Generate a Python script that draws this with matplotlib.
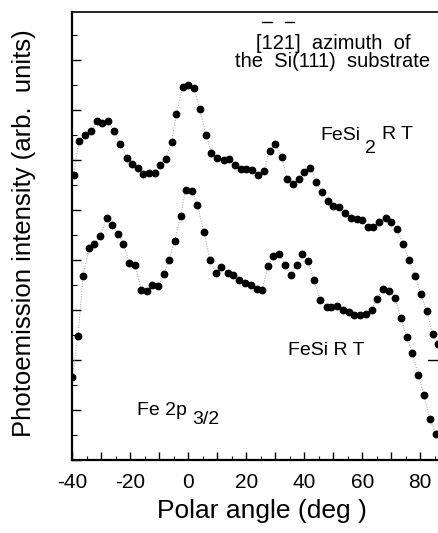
import numpy as np
import matplotlib.pyplot as plt
from matplotlib.ticker import MultipleLocator, FuncFormatter
from matplotlib.font_manager import FontProperties
from matplotlib.lines import Line2D

plt.rcParams['font.family'] = ['Liberation Sans', 'DejaVu Sans']

# polar angle (deg) and intensity (arb. units)
fesi2_angle = [-39.4, -37.6, -35.4, -33.3, -31.4, -29.5, -27.6, -25.5, -23.3, -21.2,
               -19.4, -17.4, -15.5, -13.6, -11.5, -9.8, -7.7, -5.7, -4.0, -1.9,
               0.0, 2.0, 4.0, 6.1, 8.0, 10.1, 12.3, 14.1, 16.1, 18.2,
               20.1, 22.1, 24.1, 26.1, 28.1, 30.1, 32.2, 34.1, 36.2, 38.2,
               40.0, 42.1, 44.0, 46.0, 48.1, 50.0, 52.1, 54.0, 56.0, 58.1,
               60.0, 61.9, 63.8, 65.9, 68.1, 69.9, 71.9, 74.1, 76.2, 78.2,
               80.1, 82.2, 84.3, 86.0]
fesi2_int = [5.71, 6.39, 6.50, 6.59, 6.79, 6.75, 6.78, 6.58, 6.33, 6.05,
             5.93, 5.85, 5.73, 5.75, 5.75, 5.90, 6.03, 6.37, 6.93, 7.47,
             7.51, 7.45, 7.02, 6.51, 6.15, 6.05, 6.00, 6.03, 5.90, 5.83,
             5.82, 5.80, 5.71, 5.79, 6.19, 6.33, 6.07, 5.62, 5.52, 5.62,
             5.77, 5.85, 5.57, 5.37, 5.19, 5.08, 5.07, 4.95, 4.85, 4.82,
             4.80, 4.65, 4.65, 4.77, 4.85, 4.77, 4.63, 4.32, 4.00, 3.69,
             3.33, 2.98, 2.53, 2.32]

fesi_angle = [-39.9, -37.9, -36.2, -34.1, -32.4, -30.2, -28.1, -26.3, -24.3, -22.3,
              -20.3, -18.3, -16.1, -14.1, -12.3, -10.3, -8.3, -6.6, -4.6, -2.6,
              -0.8, 1.3, 3.2, 5.4, 7.5, 9.6, 11.5, 13.6, 15.5, 17.6,
              19.6, 21.6, 23.6, 25.5, 27.6, 29.3, 31.4, 33.4, 35.4, 37.4,
              39.3, 41.4, 43.3, 45.5, 47.7, 49.4, 51.4, 53.4, 55.4, 57.1,
              59.2, 61.3, 63.2, 65.2, 67.1, 69.3, 71.3, 73.2, 75.3, 77.2,
              79.3, 81.3, 83.3, 85.4]
fesi_int = [1.67, 2.48, 3.69, 4.23, 4.33, 4.48, 4.85, 4.70, 4.53, 4.33,
            3.95, 3.90, 3.40, 3.38, 3.50, 3.48, 3.73, 4.00, 4.38, 4.88,
            5.41, 5.39, 5.10, 4.57, 4.00, 3.75, 3.87, 3.75, 3.70, 3.61,
            3.55, 3.50, 3.43, 3.40, 3.88, 4.08, 4.12, 3.91, 3.70, 3.91,
            4.12, 3.98, 3.61, 3.21, 3.07, 3.07, 3.08, 3.00, 2.97, 2.90,
            2.90, 2.93, 3.01, 3.23, 3.43, 3.38, 3.25, 2.85, 2.47, 2.15,
            1.71, 1.30, 0.82, 0.53]

# short level mark at the right edge
mark_angle = [82.6, 86.5]
mark_level = [2.0, 2.0]

W, H = 438, 533
fig = plt.figure(figsize=(W / 100, H / 100), dpi=100)
ax = fig.add_axes([72 / W, 1 - 460 / H, 1 - 72 / W, (460 - 12) / H])

for xs, ys in [(fesi2_angle, fesi2_int), (fesi_angle, fesi_int)]:
    ax.plot(xs, ys, ls=':', color='0.6', lw=0.7)
    ax.plot(xs, ys, ls='none', marker='o', ms=4.6, mfc='k', mec='k')
ax.plot(mark_angle, mark_level, color='k', lw=1.0, clip_on=False)

ax.set_xlim(-40, 86.1)
ax.set_ylim(0, 8.96)
ax.xaxis.set_major_locator(MultipleLocator(10))
ax.xaxis.set_minor_locator(MultipleLocator(5))
ax.xaxis.set_major_formatter(FuncFormatter(lambda v, p: f"{v:.0f}" if round(v) % 20 == 0 else ""))
ax.yaxis.set_major_locator(MultipleLocator(1))
ax.yaxis.set_minor_locator(MultipleLocator(0.5))
ax.yaxis.set_major_formatter(FuncFormatter(lambda v, p: ""))
ax.tick_params(which='both', direction='in', top=False, right=False, color='k')
ax.tick_params(axis='x', which='major', length=6, width=1.0, labelsize=15, pad=9)
ax.tick_params(axis='x', which='minor', length=3, width=0.8)
ax.tick_params(axis='y', which='major', length=6.5, width=1.0)
ax.tick_params(axis='y', which='minor', length=3.5, width=0.8)
ax.spines['right'].set_visible(False)
ax.spines['left'].set_linewidth(1.6)
ax.spines['bottom'].set_linewidth(1.6)
ax.spines['top'].set_linewidth(1.2)


def fx(x):
    return x / W


def fy(y):
    return 1 - y / H


fig.text(fx(24), fy(233), "Photoemission intensity (arb.  units)", rotation=90,
         ha='center', va='center', fontsize=18.5)
fig.text(fx(262), fy(518), "Polar angle (deg )", ha='center', va='baseline', fontsize=19)

rend = fig.canvas.get_renderer()


def tw(s, size):
    fp = FontProperties(family='Liberation Sans', size=size)
    return rend.get_text_width_height_descent(s, fp, ismath=False)[0]


# azimuth note with bars over the 1s
s1 = "[121]  azimuth  of"
fs_note = 14.5
cx = 333
x0 = cx - tw(s1, fs_note) / 2
fig.text(fx(x0), fy(49), s1, ha='left', va='baseline', fontsize=fs_note)
for i in (1, 3):
    xa = x0 + tw(s1[:i], fs_note)
    xb = x0 + tw(s1[:i + 1], fs_note)
    fig.add_artist(Line2D([fx(xa + 1), fx(xb - 1)], [fy(22), fy(22)],
                          color='k', lw=1.0, transform=fig.transFigure))
fig.text(fx(cx), fy(67), "the  Si(111)  substrate", ha='center', va='baseline', fontsize=fs_note)

# FeSi2 RT
fs_lab = 14
x = 320
fig.text(fx(x), fy(140), "FeSi", ha='left', va='baseline', fontsize=fs_lab)
x += tw("FeSi", fs_lab) + 5
fig.text(fx(x), fy(153), "2", ha='left', va='baseline', fontsize=fs_lab)
x += tw("2", fs_lab) + 6
fig.text(fx(x), fy(139), "R T", ha='left', va='baseline', fontsize=fs_lab)

# FeSi RT
fig.text(fx(288), fy(355), "FeSi R T", ha='left', va='baseline', fontsize=fs_lab)

# Fe 2p3/2
x = 137
fig.text(fx(x), fy(415), "Fe 2p", ha='left', va='baseline', fontsize=fs_lab)
x += tw("Fe 2p", fs_lab) + 5
fig.text(fx(x), fy(424), "3/2", ha='left', va='baseline', fontsize=fs_lab)

fig.savefig("out.png", dpi=100)
